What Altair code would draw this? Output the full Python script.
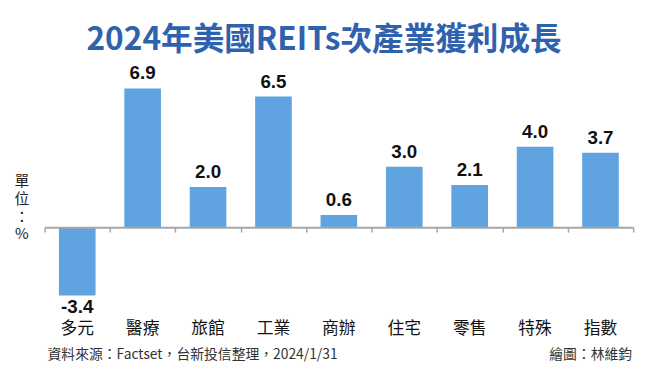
import altair as alt
import pandas as pd

categories = ["多元", "醫療", "旅館", "工業", "商辦", "住宅", "零售", "特殊", "指數"]
values = [-3.4, 6.9, 2.0, 6.5, 0.6, 3.0, 2.1, 4.0, 3.7]

title_text = "2024年美國REITs次產業獲利成長"
unit_text = ["單", "位", "：", "%"]
source_text = "資料來源：Factset，台新投信整理，2024/1/31"
credit_text = "繪圖：林維鈞"

df = pd.DataFrame({"cat": categories, "val": values})
df["label"] = df["val"].map(lambda v: f"{v:.1f}")

W, H = 596, 224
Y_DOMAIN = [-4, 7]
zero_offset = -(H * (0 - Y_DOMAIN[0]) / (Y_DOMAIN[1] - Y_DOMAIN[0]))

CJK = "Noto Sans CJK TC"
NUM = "Liberation Sans"
BAR = "#5FA4E0"
BLUE = "#2F62AE"

x_enc = alt.X(
    "cat:N",
    sort=categories,
    scale=alt.Scale(paddingInner=0, paddingOuter=0),
    axis=alt.Axis(
        title=None,
        labels=False,
        grid=False,
        domain=True,
        domainColor="#A6A6A6",
        domainWidth=2,
        ticks=True,
        tickBand="extent",
        tickColor="#A6A6A6",
        tickWidth=1.5,
        tickSize=5,
        offset=zero_offset,
        zindex=1,
    ),
)
x_plain = alt.X("cat:N", sort=categories)
y_enc = alt.Y(
    "val:Q",
    scale=alt.Scale(domain=Y_DOMAIN, nice=False, zero=True),
    axis=None,
)

base = alt.Chart(df)

bars = base.mark_bar(color=BAR, width=alt.RelativeBandSize(0.56)).encode(x=x_enc, y=y_enc)

pos_labels = base.transform_filter("datum.val >= 0").mark_text(
    baseline="bottom", dy=-5, font=NUM, fontSize=19, fontWeight="bold", color="#111111"
).encode(x=x_plain, y=alt.Y("val:Q", axis=None), text="label:N")

neg_labels = base.transform_filter("datum.val < 0").mark_text(
    baseline="top", dy=3, font=NUM, fontSize=19, fontWeight="bold", color="#111111"
).encode(x=x_plain, y=alt.Y("val:Q", axis=None), text="label:N")

cat_labels = base.mark_text(
    baseline="middle", font=CJK, fontSize=17, color="#111111"
).encode(x=x_plain, y=alt.value(H + 22), text="cat:N")

ann = pd.DataFrame({"i": [0]})
title = alt.Chart(ann).mark_text(
    text=title_text, font=CJK, fontSize=32, fontWeight="bold", color=BLUE,
    align="center", baseline="middle",
).encode(x=alt.value(283), y=alt.value(-47))

unit = alt.Chart(ann).mark_text(
    text=unit_text, font=CJK, fontSize=15, color="#222222",
    align="center", baseline="top", lineHeight=18,
).encode(x=alt.value(-23), y=alt.value(89))

source = alt.Chart(ann).mark_text(
    text=source_text, font=CJK, fontSize=14, color="#333333",
    align="left", baseline="middle",
).encode(x=alt.value(3), y=alt.value(272))

credit = alt.Chart(ann).mark_text(
    text=credit_text, font=CJK, fontSize=14, color="#333333",
    align="right", baseline="middle",
).encode(x=alt.value(595), y=alt.value(272))

chart = alt.layer(
    bars, pos_labels, neg_labels, cat_labels, title, unit, source, credit
).properties(
    width=W,
    height=H,
    autosize=alt.AutoSizeParams(type="none"),
    padding={"left": 37, "top": 77, "right": 15, "bottom": 76},
).configure_view(stroke=None).configure_axis(grid=False)

chart.save("out.html", embed_options={"renderer": "svg", "actions": False})
